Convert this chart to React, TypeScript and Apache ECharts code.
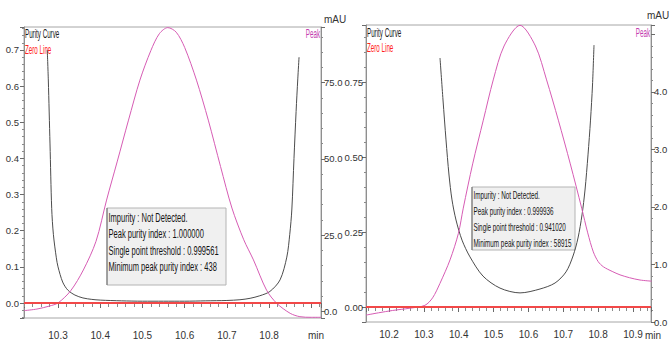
import React, { useEffect, useRef } from "react";
import * as echarts from "echarts";

// ---------- Left chromatogram ----------
const leftPurityTime = [10.2745, 10.277, 10.281, 10.285, 10.289, 10.296, 10.3, 10.311, 10.323, 10.34, 10.359, 10.38, 10.4, 10.45, 10.5, 10.55, 10.6, 10.65, 10.7, 10.731, 10.755, 10.778, 10.802, 10.826, 10.842, 10.849, 10.854, 10.859, 10.864, 10.868, 10.871];
const leftPurityValue = [0.7, 0.617, 0.44, 0.262, 0.19, 0.125, 0.1, 0.058, 0.036, 0.022, 0.014, 0.01, 0.008, 0.006, 0.005, 0.005, 0.005, 0.006, 0.007, 0.009, 0.013, 0.02, 0.032, 0.064, 0.127, 0.19, 0.26, 0.4, 0.53, 0.62, 0.68];
const leftPeakTime = [10.22, 10.25, 10.28, 10.3, 10.33, 10.36, 10.39, 10.415, 10.44, 10.467, 10.494, 10.52, 10.54, 10.56, 10.58, 10.6, 10.628, 10.656, 10.685, 10.712, 10.74, 10.763, 10.794, 10.818, 10.85, 10.873, 10.9, 10.923];
const leftPeakMAU = [0.3, 0.8, 1.8, 2.8, 6.8, 13.6, 23.0, 36.5, 49.0, 62.7, 75.8, 85.5, 91.0, 93.0, 91.5, 86.5, 75.8, 62.7, 47.5, 33.9, 23.5, 16.9, 7.0, 2.7, -0.6, -1.7, -1.9, -1.9];
const leftInfoLines = [
  "Impurity : Not Detected.",
  "Peak purity index : 1.000000",
  "Single point threshold : 0.999561",
  "Minimum peak purity index : 438",
];

// ---------- Right chromatogram ----------
const rightPurityTime = [10.3463, 10.3549, 10.3635, 10.3721, 10.3807, 10.3922, 10.4094, 10.4323, 10.4696, 10.5184, 10.5758, 10.6331, 10.6762, 10.7077, 10.7278, 10.7421, 10.7536, 10.7622, 10.7708, 10.778, 10.7837, 10.788];
const rightPurityValue = [0.83, 0.69, 0.557, 0.44, 0.357, 0.29, 0.223, 0.167, 0.103, 0.063, 0.047, 0.06, 0.08, 0.117, 0.17, 0.23, 0.307, 0.39, 0.507, 0.623, 0.74, 0.873];
const rightPeakTime = [10.134, 10.17, 10.21, 10.26, 10.303, 10.325, 10.346, 10.375, 10.399, 10.413, 10.44, 10.4705, 10.499, 10.53, 10.5758, 10.62, 10.652, 10.6857, 10.72, 10.7527, 10.77, 10.786, 10.8, 10.815, 10.84, 10.8626, 10.89, 10.92, 10.9535];
const rightPeakMAU = [0.12, 0.16, 0.2, 0.24, 0.29, 0.42, 0.67, 1.08, 1.54, 1.98, 2.75, 3.51, 4.21, 4.8, 5.16, 4.8, 4.21, 3.51, 2.75, 1.98, 1.55, 1.22, 1.05, 0.96, 0.88, 0.82, 0.77, 0.73, 0.71];
const rightInfoLines = [
  "Impurity : Not Detected.",
  "Peak purity index : 0.999936",
  "Single point threshold : 0.941020",
  "Minimum peak purity index : 58915",
];

const legendNames = ["Purity Curve", "Zero Line", "Peak"];
const timeUnit = "min";
const absUnit = "mAU";
const zeroLevel = 0;

const NARROW = "'Liberation Sans Narrow', 'Arial Narrow', 'Liberation Sans', Arial, sans-serif";
const PURITY_COLOR = "#4c4c4c";
const PEAK_COLOR = "#d65cb4";
const ZERO_COLOR = "#f24848";

const zip = (t: number[], v: number[]) => t.map((x, i) => [x, v[i]]);

const stepLabel = (step: number, digits: number, maxShown = Infinity) => (v: number) => {
  const r = v / step;
  if (Math.abs(r - Math.round(r)) > 1e-6) return "";
  if (v > maxShown + 1e-9) return "";
  return Math.abs(v) < 1e-9 ? (0).toFixed(digits) : v.toFixed(digits);
};

const axisCommon = (step: number) => ({
  type: "value" as const,
  minInterval: step,
  maxInterval: step,
  nameMoveOverlap: false,
  axisLine: { show: true, lineStyle: { color: "#8f8f8f", width: 1 } },
  axisTick: { show: true, length: 4, lineStyle: { color: "#6a6a6a" } },
  minorTick: { show: true, splitNumber: 5, length: 2, lineStyle: { color: "#8a8a8a" } },
  splitLine: { show: false },
  minorSplitLine: { show: false },
});

const yLabel = { fontFamily: NARROW, fontSize: 9.5, color: "#333" };
const xLabel = { fontFamily: NARROW, fontSize: 10, color: "#333" };

function infoBox(x: number, y: number, w: number, h: number, lines: string[], fontSize: number, sx: number, lineGap: number, firstY: number) {
  const children: any[] = [
    { type: "rect", shape: { x, y, width: w, height: h }, style: { fill: "#f0f0f0", stroke: "#b4b4b4", lineWidth: 1 } },
    { type: "line", shape: { x1: x, y1: y, x2: x, y2: y + h }, style: { stroke: "#6a6a6a", lineWidth: 1 } },
  ];
  lines.forEach((t, i) => {
    children.push({
      type: "text",
      x: x + 1.5,
      y: firstY + i * lineGap,
      scaleX: sx,
      style: { text: t, font: `${fontSize}px 'Liberation Sans', Arial, sans-serif`, fill: "#141414", verticalAlign: "middle", align: "left" },
    });
  });
  return { type: "group", children };
}

function legendText(x: number, y: number, text: string, color: string, align: string) {
  return {
    type: "text",
    x,
    y,
    scaleX: 0.52,
    style: { text, font: "12px 'Liberation Sans', Arial, sans-serif", fill: color, verticalAlign: "middle", align },
  };
}

function unitText(x: number, y: number, text: string) {
  return {
    type: "text",
    x,
    y,
    style: { text, font: `10px ${NARROW}`, fill: "#333", verticalAlign: "middle", align: "center" },
  };
}

const lineSeries = (name: string, xi: number, yi: number, data: number[][], color: string) => ({
  name, type: "line", xAxisIndex: xi, yAxisIndex: yi, data,
  showSymbol: false, smooth: 0.3, lineStyle: { color, width: 1 },
});

export default function App() {
  const ref = useRef<HTMLDivElement>(null);
  useEffect(() => {
    if (!ref.current) return;
    const chart = echarts.init(ref.current, null, { renderer: "svg" });
    const option: any = {
      animation: false,
      backgroundColor: "#ffffff",
      grid: [
        { left: 24, top: 27, width: 297, height: 291, show: true, borderColor: "#a6a6a6", borderWidth: 1, containLabel: false, outerBoundsMode: "none" },
        { left: 366, top: 25, width: 285, height: 297, show: true, borderColor: "#a6a6a6", borderWidth: 1, containLabel: false, outerBoundsMode: "none" },
      ],
      xAxis: [
        {
          ...axisCommon(0.1),
          gridIndex: 0,
          min: 10.2194,
          max: 10.923,
          position: "bottom",
          axisTick: { show: true, length: 5, lineStyle: { color: "#6a6a6a" } },
          minorTick: { show: true, splitNumber: 5, length: 4, lineStyle: { color: "#8a8a8a" } },
          axisLabel: { ...xLabel, margin: 12, formatter: stepLabel(0.1, 1, 10.85) },
        },
        {
          ...axisCommon(0.1),
          gridIndex: 1,
          min: 10.134,
          max: 10.9515,
          position: "bottom",
          axisTick: { show: true, length: 5, lineStyle: { color: "#6a6a6a" } },
          minorTick: { show: true, splitNumber: 5, length: 4, lineStyle: { color: "#8a8a8a" } },
          axisLabel: { ...xLabel, margin: 7, formatter: stepLabel(0.1, 1) },
        },
      ],
      yAxis: [
        {
          ...axisCommon(0.1),
          gridIndex: 0,
          position: "left",
          min: -0.0415,
          max: 0.7636,
          axisLabel: { ...yLabel, margin: 5, formatter: stepLabel(0.1, 1) },
        },
        {
          ...axisCommon(25),
          gridIndex: 0,
          position: "right",
          min: -2.13,
          max: 93.2,
          axisLabel: { ...yLabel, margin: 3, formatter: stepLabel(25, 1) },
          name: absUnit,
          nameLocation: "end",
          nameGap: 3,
          nameTextStyle: { ...xLabel, align: "left", padding: [0, 0, 0, 3] },
        },
        {
          ...axisCommon(0.25),
          gridIndex: 1,
          position: "left",
          min: -0.05,
          max: 0.94,
          axisLabel: { ...yLabel, margin: 3, formatter: stepLabel(0.25, 2) },
        },
        {
          ...axisCommon(1),
          gridIndex: 1,
          position: "right",
          min: 0,
          max: 5.165,
          axisLabel: { ...yLabel, margin: 3, formatter: stepLabel(1, 1, 4.5) },
          name: absUnit,
          nameLocation: "end",
          nameGap: 5,
          nameTextStyle: { ...xLabel, align: "center", padding: [0, 0, 0, 14] },
        },
      ],
      series: [
        {
          name: legendNames[1], type: "line", xAxisIndex: 0, yAxisIndex: 0, data: [], silent: true,
          markLine: { silent: true, symbol: "none", label: { show: false }, lineStyle: { color: ZERO_COLOR, width: 2, type: "solid" }, data: [{ yAxis: zeroLevel }] },
        },
        lineSeries(legendNames[0], 0, 0, zip(leftPurityTime, leftPurityValue), PURITY_COLOR),
        lineSeries(legendNames[2], 0, 1, zip(leftPeakTime, leftPeakMAU), PEAK_COLOR),
        {
          name: legendNames[1] + " ", type: "line", xAxisIndex: 1, yAxisIndex: 2, data: [], silent: true,
          markLine: { silent: true, symbol: "none", label: { show: false }, lineStyle: { color: ZERO_COLOR, width: 2, type: "solid" }, data: [{ yAxis: zeroLevel }] },
        },
        lineSeries(legendNames[0] + " ", 1, 2, zip(rightPurityTime, rightPurityValue), PURITY_COLOR),
        lineSeries(legendNames[2] + " ", 1, 3, zip(rightPeakTime, rightPeakMAU), PEAK_COLOR),
      ],
      graphic: [
        legendText(25, 34, legendNames[0], "#1a1a1a", "left"),
        legendText(25, 50, legendNames[1], "#ff2020", "left"),
        legendText(320, 34, legendNames[2], "#c43cb0", "right"),
        legendText(367, 33, legendNames[0], "#1a1a1a", "left"),
        legendText(367, 48, legendNames[1], "#ff2020", "left"),
        legendText(650, 33, legendNames[2], "#c43cb0", "right"),
        unitText(316, 335, timeUnit),
        unitText(653, 335, timeUnit),
        infoBox(107, 208, 119, 77, leftInfoLines, 13, 0.58, 16.5, 217),
        infoBox(472, 187, 103, 63, rightInfoLines, 11.5, 0.55, 16, 195),
      ],
    };
    chart.setOption(option);
    return () => chart.dispose();
  }, []);
  return <div ref={ref} style={{ position: "fixed", left: 0, top: 0, width: 669, height: 341 }} />;
}
